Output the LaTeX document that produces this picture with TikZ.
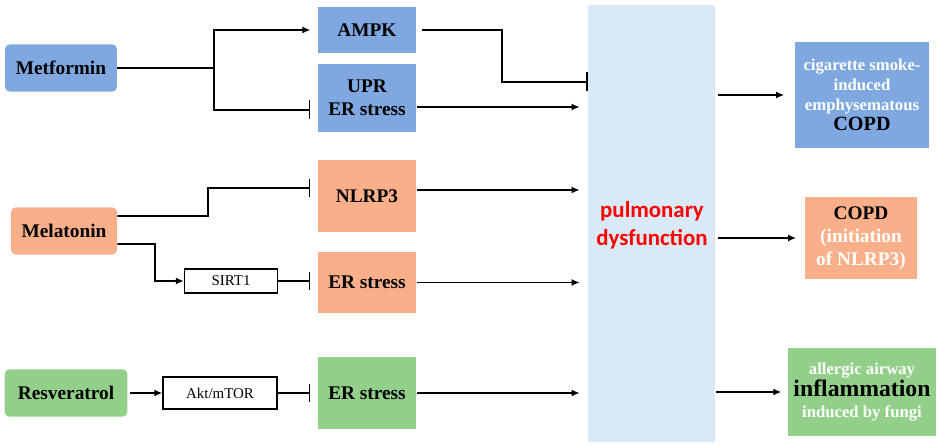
\documentclass[tikz,border=0pt]{standalone}
\usepackage{fontspec}
\setmainfont{Liberation Serif}
\newfontfamily\pdfont{Carlito}
\usetikzlibrary{arrows.meta}

\definecolor{metblue}{HTML}{7FA8E0}
\definecolor{melorange}{HTML}{F9B08A}
\definecolor{resgreen}{HTML}{92D08A}
\definecolor{pulblue}{HTML}{DAE9F6}

\begin{document}
\begin{tikzpicture}[x=0.02cm, y=-0.02cm,
  drug/.style={rounded corners=0.1cm, minimum height=0.95cm, font=\fontsize{11}{13}\selectfont\bfseries},
  target/.style={minimum width=1.97cm, align=center, font=\fontsize{11}{13}\selectfont\bfseries},
  mediator/.style={draw=black, thick, fill=white, font=\fontsize{8.5}{10}\selectfont},
  outcome/.style={align=center, text=white, font=\fontsize{9.5}{11.5}\selectfont\bfseries},
  act/.style={-{Latex[length=1.6mm,width=1.4mm]}, line width=1pt},
  inh/.style={-{Bar[width=3.8mm]}, line width=1pt}]

\useasboundingbox (0,0) rectangle (941,446);

% Central box
\node[fill=pulblue, minimum width=2.54cm, minimum height=8.74cm] (pd) at (651.5,223.5) {};
\node[text=red, align=center, font=\pdfont\fontsize{13}{16}\selectfont\bfseries] (pdtext) at (652,225) {pulmonary\\dysfunction};

% Metformin
\node[drug, fill=metblue, minimum width=2.24cm] (met) at (61,68) {Metformin};
\node[target, fill=metblue, minimum height=0.94cm] (ampk) at (367,30) {AMPK};
\node[target, fill=metblue, minimum height=1.36cm] (upr) at (367,98) {UPR\\ER stress};

\draw[line width=1pt] (met.east) -- (214,68) coordinate (mj);
\draw[act, shorten >=0.14cm] (mj) |- (ampk.west);
\draw[inh, shorten >=0.14cm] (mj) |- ([yshift=-0.24cm]upr.west);
\draw[inh] ([xshift=0.1cm]ampk.east) -- (502,30) |- ([yshift=-1.54cm]pd.north west);
\coordinate (uprout) at ([yshift=-0.18cm]upr.east);
\draw[act, shorten >=0.16cm] (uprout) -- (uprout -| pd.west);

% Melatonin
\node[drug, fill=melorange, minimum width=2.12cm] (mel) at (64,231) {Melatonin};
\node[target, fill=melorange, minimum height=1.44cm] (nlrp) at (367,196) {NLRP3};
\node[mediator, minimum width=1.86cm, minimum height=0.48cm] (sirt) at (231,281) {SIRT1};
\node[target, fill=melorange, minimum height=1.22cm] (ero) at (367,282.5) {ER stress};

\draw[inh, shorten >=0.14cm] ([yshift=0.3cm]mel.east) -- (208,216) |- ([yshift=0.16cm]nlrp.west);
\draw[act] ([yshift=-0.26cm]mel.east) -- (155,244) |- (sirt.west);
\draw[inh, shorten >=0.14cm] (sirt.east) -- (sirt.east -| ero.west);
\coordinate (nlrpout) at ([yshift=0.12cm]nlrp.east);
\draw[act, shorten >=0.16cm] (nlrpout) -- (nlrpout -| pd.west);
\draw[act, shorten >=0.16cm] (ero.east) -- (ero.east -| pd.west);

% Resveratrol
\node[drug, fill=resgreen, minimum width=2.46cm] (res) at (66,393) {Resveratrol};
\node[mediator, minimum width=2.28cm, minimum height=0.64cm] (akt) at (220,393) {Akt/mTOR};
\node[target, fill=resgreen, minimum height=1.46cm] (erg) at (367,393) {ER stress};

\draw[act, shorten <=0.04cm] (res.east) -- (res.east -| akt.west);
\draw[inh, shorten >=0.14cm] (akt.east) -- (akt.east -| erg.west);
\draw[act, shorten >=0.16cm] (erg.east) -- (erg.east -| pd.west);

% Outcomes
\node[outcome, fill=metblue, minimum width=2.7cm, minimum height=2.12cm] (cig) at (862,95)
  {cigarette smoke-\\induced\\emphysematous\\{\color{black}\fontsize{11.5}{13}\selectfont COPD}};
\node[outcome, fill=melorange, minimum width=2.26cm, minimum height=1.66cm, font=\fontsize{11}{13}\selectfont\bfseries] (copd) at (861,238)
  {{\color{black}COPD}\\(initiation\\of NLRP3)};
\node[outcome, fill=resgreen, minimum width=2.9cm, minimum height=1.76cm] (infl) at (862,392)
  {allergic airway\\{\color{black}\fontsize{13.5}{16}\selectfont inflammation}\\induced by fungi};

\draw[act, shorten <=0.06cm, shorten >=0.2cm] (cig.west -| pd.east) -- (cig.west);
\draw[act, shorten <=0.06cm, shorten >=0.16cm] (copd.west -| pd.east) -- (copd.west);
\draw[act, shorten <=0.02cm, shorten >=0.12cm] (infl.west -| pd.east) -- (infl.west);

\end{tikzpicture}
\end{document}
